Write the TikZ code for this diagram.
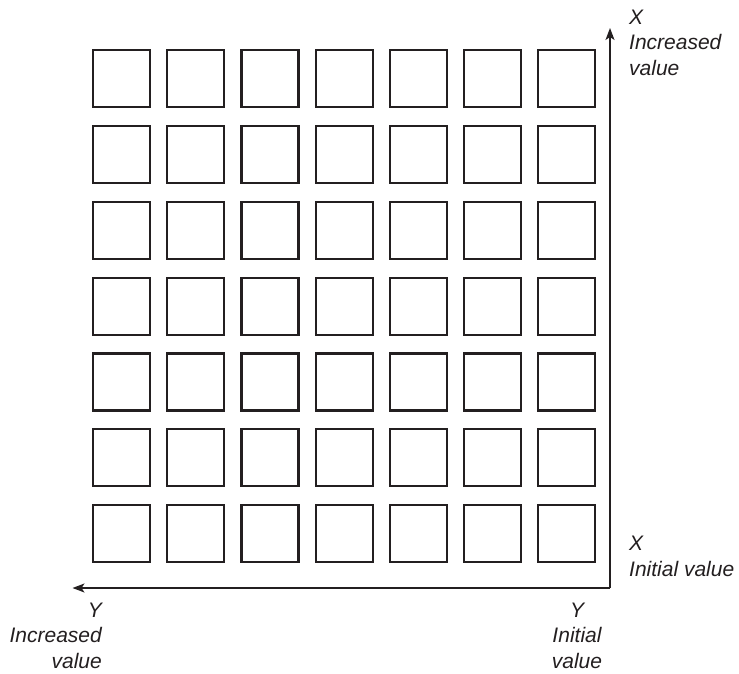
\documentclass[tikz,border=0pt]{standalone}
\usepackage{fontspec}
\setmainfont{Liberation Sans}
\usetikzlibrary{arrows.meta}
\definecolor{ink}{HTML}{231F20}
\tikzset{
  cell/.style={draw=ink, line width=2.2pt, inner sep=0pt, minimum size=57pt},
  axis/.style={draw=ink, line width=1.4pt, -{Stealth[length=12pt,width=9pt,inset=3pt]}},
  lbl/.style={text=ink, inner sep=0pt, font=\fontsize{21}{25.5}\selectfont\itshape}
}
\begin{document}
\begin{tikzpicture}[x=1pt,y=-1pt]
\useasboundingbox (0,0) rectangle (739,674);
\foreach \i in {0,...,6}{
  \foreach \j in {0,...,6}{
    \node[cell] (s-\i-\j) at ({121.5+\i*74.2},{78.8+\j*75.8}) {};
  }
}
\coordinate (o) at (610,588);
\coordinate (xend) at (610,28);
\coordinate (yend) at (72.5,588);
\draw[axis] (o) -- (xend);
\draw[axis] (o) -- (yend);
\node[lbl, anchor=north west, align=left] (xinc) at (629,9.5) {X\\Increased\\value};
\node[lbl, anchor=north west, align=left] (xini) at (629,536) {X\\Initial value};
\node[lbl, anchor=north, align=center] (yini) at (577,602.5) {Y\\Initial\\value};
\node[lbl, anchor=north east, align=right] (yinc) at (102,602.5) {Y\\Increased\\value};
\end{tikzpicture}
\end{document}
